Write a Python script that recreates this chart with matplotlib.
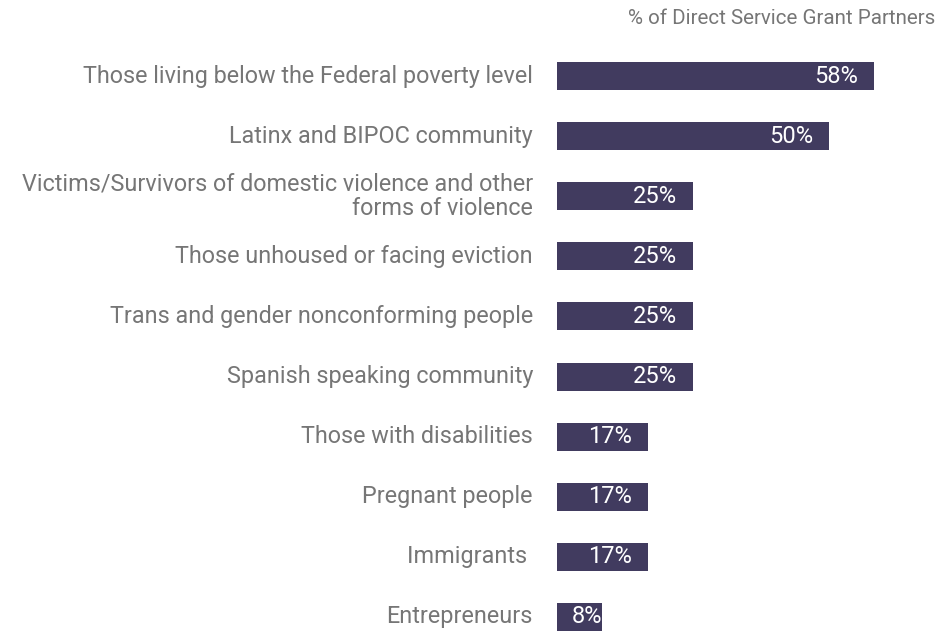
import matplotlib
matplotlib.use("Agg")
import matplotlib.pyplot as plt

categories = [
    "Those living below the Federal poverty level",
    "Latinx and BIPOC community",
    "Victims/Survivors of domestic violence and other\nforms of violence",
    "Those unhoused or facing eviction",
    "Trans and gender nonconforming people",
    "Spanish speaking community",
    "Those with disabilities",
    "Pregnant people",
    "Immigrants ",
    "Entrepreneurs",
]
values = [58.3, 50.0, 25.0, 25.0, 25.0, 25.0, 16.7, 16.7, 16.7, 8.3]
value_labels = ["58%", "50%", "25%", "25%", "25%", "25%", "17%", "17%", "17%", "8%"]
axis_title = "% of Direct Service Grant Partners"

BAR = "#413b5f"
GREY = "#767676"
FONT = "Roboto"

W, H = 949, 632
fig = plt.figure(figsize=(W / 100, H / 100), dpi=100)
ax = fig.add_axes([557 / W, 0, (935 - 557) / W, (632 - 46) / H])

y = list(range(len(categories)))
bars = ax.barh(y, values, height=0.467, color=BAR, left=0)
ax.set_xlim(0, 69.5)
ax.set_ylim(9.25, -0.5)
ax.axis("off")

fs = 16.8
for yi, cat in zip(y, categories):
    ax.annotate(cat, xy=(0, yi), xytext=(-24, 0), textcoords="offset pixels",
                ha="right", va="center", fontsize=fs, color=GREY,
                family=FONT, linespacing=1.05, multialignment="right")

for yi, v, lab in zip(y, values, value_labels):
    if v < 10:
        ax.annotate(lab, xy=(0, yi), xytext=(15, 0), textcoords="offset pixels",
                    ha="left", va="center", fontsize=17, color="white",
                    family=FONT)
    else:
        ax.annotate(lab, xy=(v, yi), xytext=(-16, 0), textcoords="offset pixels",
                    ha="right", va="center", fontsize=17, color="white",
                    family=FONT)

fig.text(935 / W, 1 - 18.5 / H, axis_title, ha="right", va="center",
         fontsize=14.8, color=GREY, family=FONT)

fig.savefig("out.png", dpi=100)
